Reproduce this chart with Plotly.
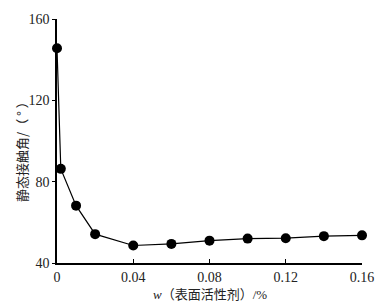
import plotly.graph_objects as go

# data
w_surfactant = [0.0, 0.002, 0.01, 0.02, 0.04, 0.06, 0.08, 0.10, 0.12, 0.14, 0.16]
contact_angle = [145.6, 86.3, 68.2, 54.2, 48.6, 49.4, 51.0, 52.0, 52.2, 53.2, 53.6]
x_ticks = [0, 0.04, 0.08, 0.12, 0.16]
x_tick_labels = ["0", "0.04", "0.08", "0.12", "0.16"]
y_ticks = [40, 80, 120, 160]
y_tick_labels = ["40", "80", "120", "160"]

serif = "Liberation Serif"
cjk = "Noto Sans CJK SC"

fig = go.Figure()
fig.add_trace(go.Scatter(
    x=w_surfactant, y=contact_angle, mode="lines+markers",
    line=dict(color="black", width=1.2),
    marker=dict(color="black", size=10),
    showlegend=False, cliponaxis=False,
))

fig.update_layout(
    width=386, height=307,
    margin=dict(l=57, r=23, t=12, b=44),
    paper_bgcolor="white", plot_bgcolor="white",
    font=dict(family=serif),
    xaxis=dict(
        range=[0, 0.16], tickvals=x_ticks, ticktext=x_tick_labels,
        showline=True, linecolor="black", linewidth=1.5,
        ticks="inside", ticklen=4, tickcolor="black", tickwidth=1,
        showgrid=False, zeroline=False,
        tickfont=dict(family=serif, size=14, color="#222"),
    ),
    yaxis=dict(
        range=[40, 160], tickvals=y_ticks, ticktext=y_tick_labels,
        showline=True, linecolor="black", linewidth=1.5,
        ticks="outside", ticklen=3, tickcolor="black", tickwidth=1,
        showgrid=False, zeroline=False,
        tickfont=dict(family=serif, size=14, color="#222"),
    ),
    annotations=[
        dict(text="静态接触角/（ ° ）", textangle=-90, xref="paper", yref="paper",
             x=-0.116, y=0.47, showarrow=False, xanchor="center", yanchor="middle",
             font=dict(family=cjk, size=13, color="#222")),
        dict(text="<i>w</i>（表面活性剂）/%", xref="paper", yref="paper",
             x=0.5, y=-0.131, showarrow=False, xanchor="center", yanchor="middle",
             font=dict(family="Liberation Serif, Noto Sans CJK SC", size=13, color="#222")),
    ],
)

fig.write_html("out.html", config={"displayModeBar": False},
               post_script="document.body.style.margin='0px';document.body.style.padding='0px';")
